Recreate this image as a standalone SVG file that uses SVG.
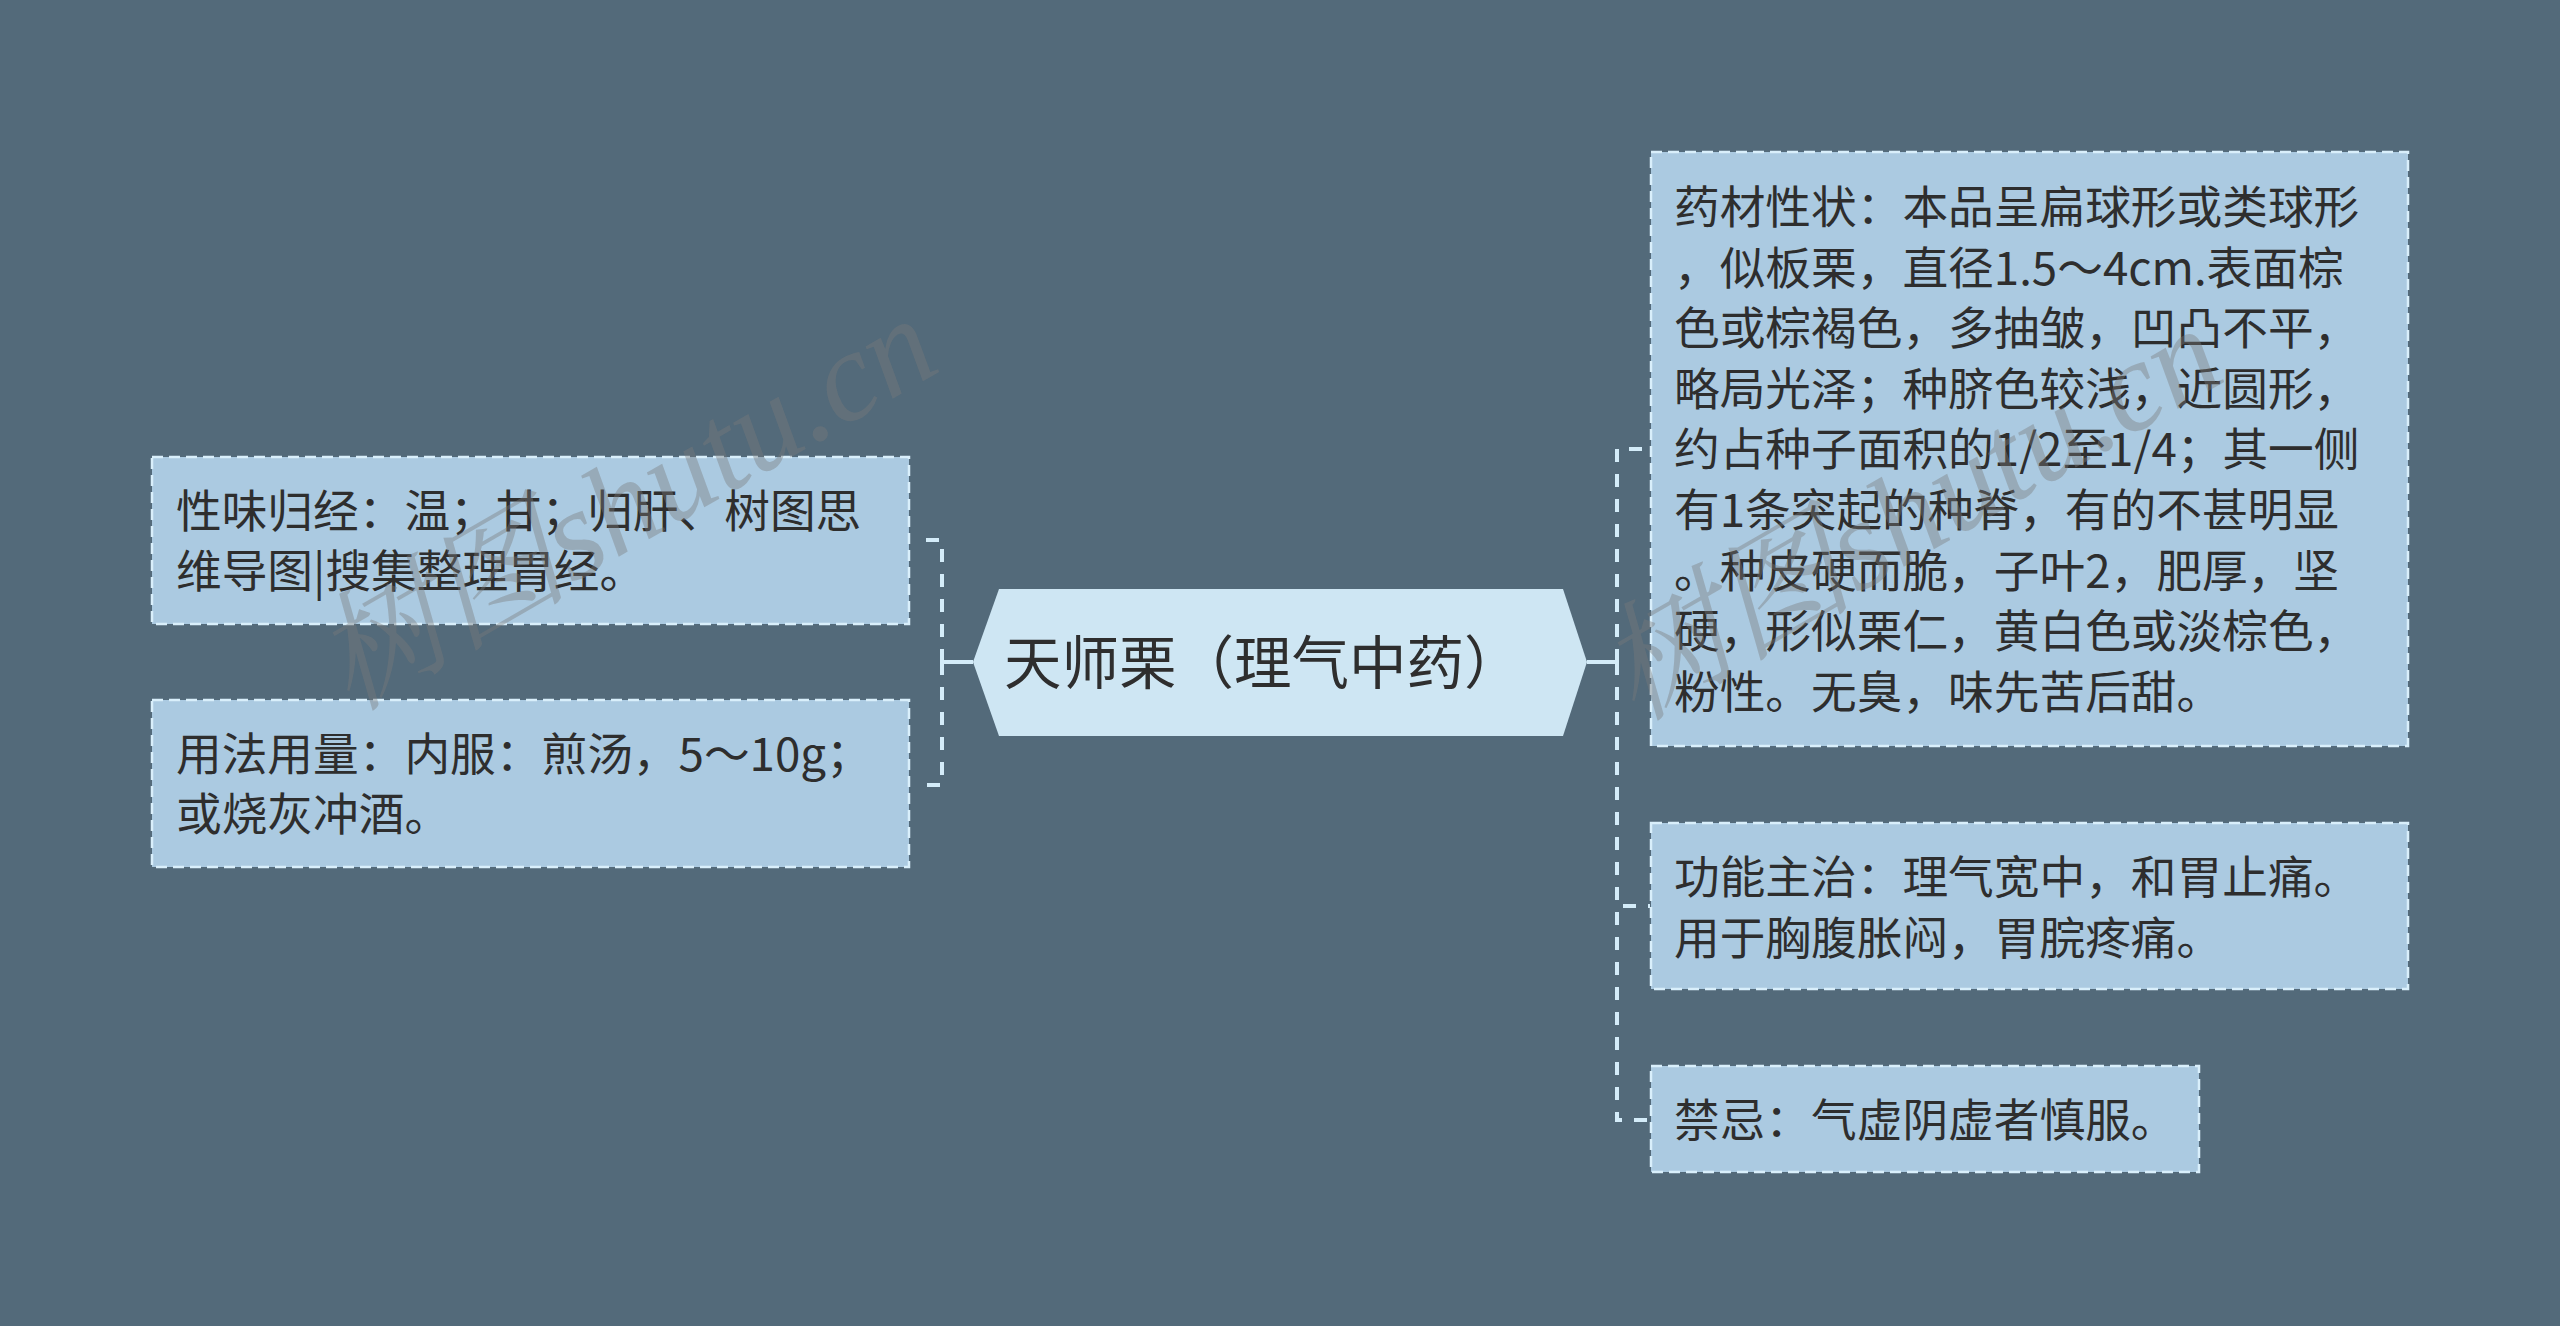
<svg xmlns="http://www.w3.org/2000/svg" width="2560" height="1326" viewBox="0 0 2560 1326">
<style>
.bg{fill:#536a7a}
.box{fill:#abcae1;stroke:#d9effb;stroke-width:2.5;stroke-dasharray:11 6}
.center{fill:#cee6f3}
.t{font-family:"Noto Sans CJK SC","Noto Sans",sans-serif;font-size:45.7px;fill:#2e2e2e}
.ct{font-family:"Noto Sans CJK SC","Noto Sans",sans-serif;font-size:57.5px;fill:#2e2e2e}
.c{fill:none;stroke:#d4ecf9;stroke-width:4}
.d{stroke-dasharray:13 12}
.wm{font-family:"Liberation Serif","Noto Serif CJK SC","Noto Sans CJK SC",serif;font-style:italic;font-size:128px;fill:#7a7a7a;fill-opacity:0.4}
</style>
<rect class="bg" x="0" y="0" width="2560" height="1326"/>
<g id="connectors">
<path class="c" d="M973,662 H942"/>
<path class="c d" d="M942,662 V540 H922"/>
<path class="c d" d="M942,662 V785 H922"/>
<path class="c" d="M1587,662 H1617"/>
<path class="c d" d="M1617,662 V449 H1650"/>
<path class="c d" d="M1617,662 V906 H1650"/>
<path class="c d" d="M1617,662 V1120 H1650"/>
</g>
<g id="node-center">
<polygon class="center" points="973,662 999,589 1563,589 1587,662 1563,736 999,736"/>
<text class="ct" x="1004" y="684">天师栗（理气中药）</text>
</g>
<g id="node-xingwei">
<rect class="box" x="152" y="457" width="757" height="167"/>
<text class="t" x="176" y="528">性味归经：温；甘；归肝、树图思</text>
<text class="t" x="176" y="588">维导图|搜集整理胃经。</text>
</g>
<g id="node-yongfa">
<rect class="box" x="152" y="700" width="757" height="167"/>
<text class="t" x="176" y="771">用法用量：内服：煎汤，5～10g；</text>
<text class="t" x="176" y="831">或烧灰冲酒。</text>
</g>
<g id="node-yaocai">
<rect class="box" x="1651" y="152" width="757" height="594"/>
<text class="t" x="1674" y="224">药材性状：本品呈扁球形或类球形</text>
<text class="t" x="1674" y="284.6">，似板栗，直径1.5～4cm.表面棕</text>
<text class="t" x="1674" y="345.2">色或棕褐色，多抽皱，凹凸不平，</text>
<text class="t" x="1674" y="405.8">略局光泽；种脐色较浅，近圆形，</text>
<text class="t" x="1674" y="466.4">约占种子面积的1/2至1/4；其一侧</text>
<text class="t" x="1674" y="527">有1条突起的种脊，有的不甚明显</text>
<text class="t" x="1674" y="587.6">。种皮硬而脆，子叶2，肥厚，坚</text>
<text class="t" x="1674" y="648.2">硬，形似栗仁，黄白色或淡棕色，</text>
<text class="t" x="1674" y="708.8">粉性。无臭，味先苦后甜。</text>
</g>
<g id="node-gongneng">
<rect class="box" x="1651" y="823" width="757" height="166"/>
<text class="t" x="1674" y="894">功能主治：理气宽中，和胃止痛。</text>
<text class="t" x="1674" y="955">用于胸腹胀闷，胃脘疼痛。</text>
</g>
<g id="node-jinji">
<rect class="box" x="1651" y="1066" width="548" height="106"/>
<text class="t" x="1674" y="1137">禁忌：气虚阴虚者慎服。</text>
</g>
<g id="watermark">
<text class="wm" x="350" y="712" transform="rotate(-30 350 712)">树图shutu.cn</text>
<text class="wm" x="1635" y="722" transform="rotate(-30 1635 722)">树图shutu.cn</text>
</g>
</svg>
